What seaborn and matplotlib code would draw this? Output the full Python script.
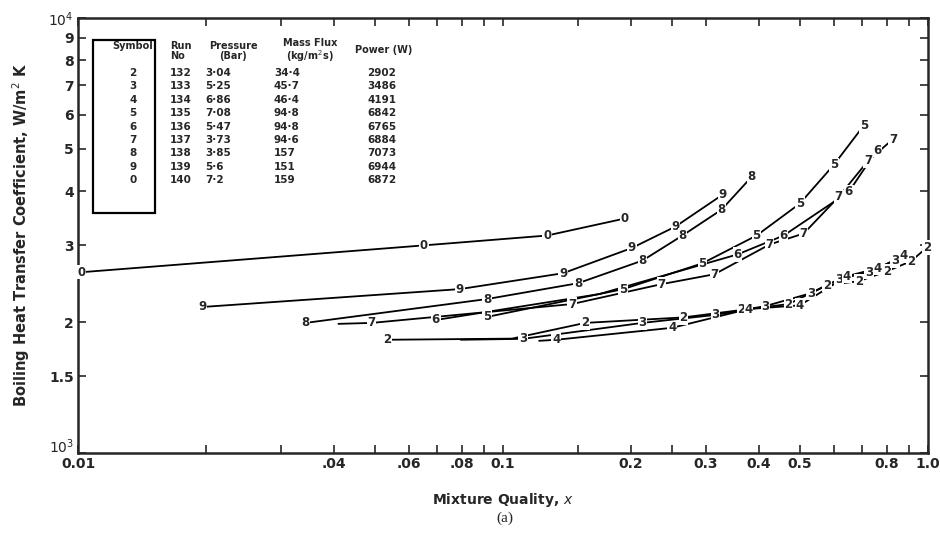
import numpy as np
import pandas as pd
import matplotlib
matplotlib.use("Agg")
import matplotlib.pyplot as plt
import seaborn as sns
from matplotlib.patches import Rectangle
from matplotlib.ticker import NullLocator

# curves (x = mixture quality, y = h in W/m2K)
x0 = [0.0102, 0.0651, 0.127, 0.193]
y0 = [2604, 3001, 3162, 3458]

x9 = [0.0196, 0.0791, 0.1385, 0.2010, 0.2545, 0.3285]
y9 = [2166, 2381, 2590, 2960, 3315, 3924]

x8 = [0.0343, 0.0917, 0.1503, 0.2130, 0.2644, 0.3268, 0.3845]
y8 = [1991, 2259, 2457, 2770, 3162, 3626, 4313]

x5 = [0.0917, 0.1919, 0.2947, 0.3951, 0.499, 0.600, 0.7066]
y5 = [2055, 2381, 2730, 3162, 3742, 4593, 5666]

x6 = [0.0695, 0.1684, 0.3563, 0.4575, 0.6513, 0.7582]
y6 = [2022, 2319, 2861, 3162, 3986, 4970]

x7 = [0.0410, 0.0491, 0.1454, 0.2359, 0.3145, 0.4241, 0.510, 0.6167, 0.722, 0.827]
y7 = [1981, 1991, 2200, 2444, 2576, 3016, 3196, 3882, 4691, 5266]

x2 = [0.0533, 0.105, 0.1561, 0.2660, 0.3641, 0.4700, 0.5778, 0.6877, 0.8007, 0.912, 0.9945]
y2 = [1821, 1832, 1991, 2050, 2132, 2200, 2431, 2483, 2617, 2760, 2969]

x3 = [0.0796, 0.1115, 0.2127, 0.3162, 0.4149, 0.5300, 0.6167, 0.726, 0.836]
y3 = [1821, 1830, 1991, 2077, 2177, 2330, 2509, 2604, 2773]

x4 = [0.1216, 0.1334, 0.2500, 0.3783, 0.4990, 0.6442, 0.7624, 0.8778]
y4 = [1811, 1821, 1940, 2143, 2185, 2549, 2659, 2847]

# points on a line that carry no symbol
no_label = {"7": [0], "6": [1], "2": [1], "3": [0], "4": [0]}

# run table
symbols = ["2", "3", "4", "5", "6", "7", "8", "9", "0"]
run_no = ["132", "133", "134", "135", "136", "137", "138", "139", "140"]
pressure = ["3·04", "5·25", "6·86", "7·08", "5·47", "3·73", "3·85", "5·6", "7·2"]
mass_flux = ["34·4", "45·7", "46·4", "94·8", "94·8", "94·6", "157", "151", "159"]
power = ["2902", "3486", "4191", "6842", "6765", "6884", "7073", "6944", "6872"]

xticks = [0.01, 0.02, 0.03, 0.04, 0.05, 0.06, 0.07, 0.08, 0.09, 0.1, 0.15, 0.2,
          0.25, 0.3, 0.4, 0.5, 0.6, 0.7, 0.8, 0.9, 1.0]
xlabels = ["0.01", "", "", ".04", "", ".06", "", ".08", "", "0.1", "", "0.2",
           "", "0.3", "0.4", "0.5", "", "", "0.8", "", "1.0"]
yticks = [1000, 1500, 2000, 3000, 4000, 5000, 6000, 7000, 8000, 9000, 10000]
ylabels = ["$10^3$", "1.5", "2", "3", "4", "5", "6", "7", "8", "9", "$10^4$"]

series = [("0", x0, y0), ("9", x9, y9), ("8", x8, y8), ("5", x5, y5),
          ("6", x6, y6), ("7", x7, y7), ("2", x2, y2), ("3", x3, y3), ("4", x4, y4)]

df = pd.concat([pd.DataFrame({"x": xs, "y": ys, "sym": s}) for s, xs, ys in series],
               ignore_index=True)

sns.set_style("ticks")
plt.rcParams["font.family"] = ["DejaVu Sans"]

W, H = 940, 539
fig = plt.figure(figsize=(9.4, 5.39), dpi=100)
ax = fig.add_axes([78 / W, 1 - 453 / H, 850 / W, 435 / H])
ax.set_xscale("log")
ax.set_yscale("log")

sns.lineplot(data=df, x="x", y="y", units="sym", estimator=None, sort=False,
             color="black", lw=1.3, ax=ax, legend=False)

# symbols written on the curves
for s, xs, ys in series:
    for i, (xv, yv) in enumerate(zip(xs, ys)):
        if i in no_label.get(s, []):
            continue
        ax.text(xv, yv, s, ha="center", va="center", fontsize=8.5, fontweight="bold",
                bbox=dict(facecolor="white", edgecolor="none", pad=0.5), zorder=5)

ax.set_xlim(0.01, 1.0)
ax.set_ylim(1000, 10000)
ax.set_xticks(xticks)
ax.set_xticklabels(xlabels)
ax.set_yticks(yticks)
ax.set_yticklabels(ylabels)
ax.xaxis.set_minor_locator(NullLocator())
ax.yaxis.set_minor_locator(NullLocator())
ax.tick_params(direction="in", top=True, right=True, length=6, width=1.2,
               labelsize=10, pad=3)
for lab in ax.get_xticklabels() + ax.get_yticklabels():
    lab.set_fontweight("bold")
# 10^3 sits just above the corner, clear of the 0.01 label
ax.get_yticklabels()[0].set_va("baseline")
for sp in ax.spines.values():
    sp.set_linewidth(1.8)

ax.set_xlabel("Mixture Quality, $x$", fontsize=10, fontweight="bold", labelpad=14)
ax.set_ylabel("Boiling Heat Transfer Coefficient, W/m$^2$ K", fontsize=10.5,
              fontweight="bold", labelpad=12)

# run table in the upper left
def fx(px):
    return px / W

def fy(py):
    return 1 - py / H

fig.patches.append(Rectangle((fx(93), fy(213)), fx(155) - fx(93), fy(40) - fy(213),
                             transform=fig.transFigure, fill=False, lw=1.6,
                             edgecolor="black"))
hkw = dict(fontsize=7, fontweight="bold", va="center", linespacing=0.95)
fig.text(fx(133), fy(46), "Symbol", ha="center", **hkw)
fig.text(fx(170), fy(51), "Run\nNo", ha="left", **hkw)
fig.text(fx(233), fy(51), "Pressure\n(Bar)", ha="center", **hkw)
fig.text(fx(310), fy(51), "Mass Flux\n(kg/m$^2$s)", ha="center", **hkw)
fig.text(fx(384), fy(50), "Power (W)", ha="center", **hkw)

vkw = dict(fontsize=7.5, fontweight="bold", va="center")
for i in range(len(symbols)):
    yy = fy(73 + 13.4 * i)
    fig.text(fx(133), yy, symbols[i], ha="center", **vkw)
    fig.text(fx(170), yy, run_no[i], ha="left", **vkw)
    fig.text(fx(205), yy, pressure[i], ha="left", **vkw)
    fig.text(fx(274), yy, mass_flux[i], ha="left", **vkw)
    fig.text(fx(367), yy, power[i], ha="left", **vkw)

fig.text(fx(505), fy(518), "(a)", ha="center", va="center", fontsize=11,
         family="Liberation Serif")

fig.savefig("out.png", dpi=100)
